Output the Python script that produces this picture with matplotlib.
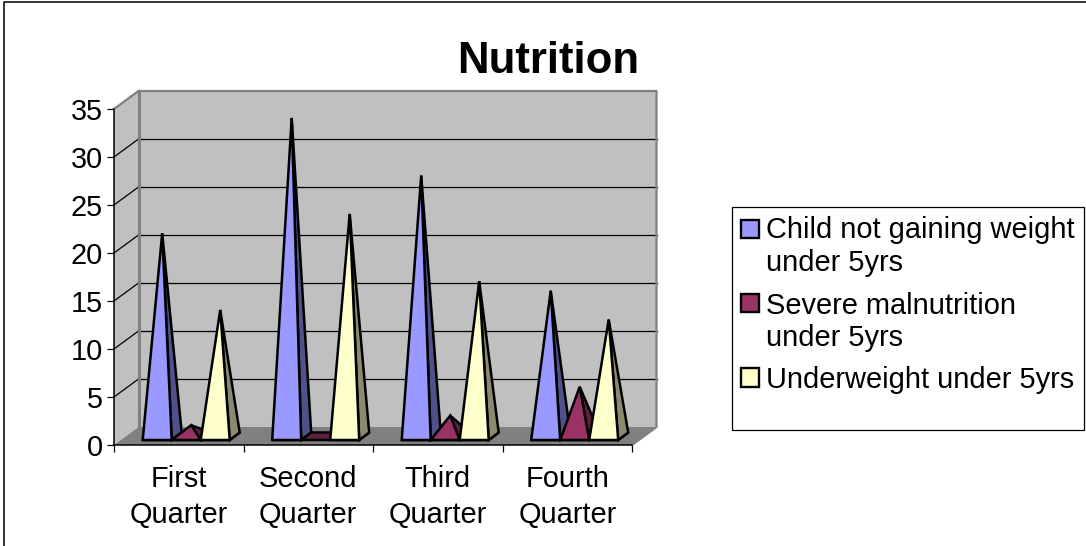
import matplotlib
matplotlib.use("Agg")
import matplotlib.pyplot as plt
from matplotlib.patches import Polygon, Rectangle

quarters = ["First\nQuarter", "Second\nQuarter", "Third\nQuarter", "Fourth\nQuarter"]
child_not_gaining = [21, 33, 27, 15]
severe_malnutrition = [1, 0, 2, 5]
underweight = [13, 23, 16, 12]
y_ticks = [0, 5, 10, 15, 20, 25, 30, 35]

legend_lines = [
    ["Child not gaining weight", "under 5yrs"],
    ["Severe malnutrition", "under 5yrs"],
    ["Underweight under 5yrs"],
]
front_colors = ["#9999FF", "#993366", "#FFFFCC"]
side_colors = ["#50508A", "#5E2040", "#8A8A6E"]

W, H = 1086, 546
plt.rcParams["font.family"] = ["Liberation Sans", "DejaVu Sans"]

fig = plt.figure(figsize=(W / 100, H / 100), dpi=100)
fig.patch.set_facecolor("white")

# front plane of the 3d box is the real axes, the rest is offset from it
left, right, bottom, top = 114, 632, 445, 109
ax = fig.add_axes([left / W, 1 - bottom / H, (right - left) / W, (bottom - top) / H])
ax.set_xlim(0, 4)
ax.set_ylim(0, 35)
ax.patch.set_visible(False)

px_x = 4 / (right - left)
px_y = 35 / (bottom - top)
depth_x = 24.5 * px_x
depth_y = 18 * px_y
bar_w = 29 * px_x
group_start = 28.7 * px_x
bar_dx = 10 * px_x
bar_dy = 7.5 * px_y
base_y = 5 * px_y
apex_lift = 1.5 * px_y


def poly(pts, face, edge="none", lw=0, z=1):
    ax.add_patch(Polygon(pts, closed=True, facecolor=face, edgecolor=edge,
                         linewidth=lw, zorder=z, clip_on=False, joinstyle="miter"))


# walls and floor
poly([(0, 0), (depth_x, depth_y), (depth_x, 35 + depth_y), (0, 35)], "#C0C0C0", z=1)
poly([(depth_x, depth_y), (4 + depth_x, depth_y), (4 + depth_x, 35 + depth_y), (depth_x, 35 + depth_y)],
     "#C0C0C0", z=1)
poly([(0, 0), (4, 0), (4 + depth_x, depth_y), (depth_x, depth_y)], "#808080", z=1)

for v in y_ticks[1:-1]:
    ax.plot([0, depth_x], [v, v + depth_y], color="black", lw=0.9, zorder=2, clip_on=False)
    ax.plot([depth_x, 4 + depth_x], [v + depth_y, v + depth_y], color="black", lw=0.9, zorder=2, clip_on=False)

ax.plot([0, depth_x, 4 + depth_x, 4 + depth_x, 4],
        [35, 35 + depth_y, 35 + depth_y, depth_y, 0],
        color="#808080", lw=1.6, zorder=3, clip_on=False)
ax.plot([depth_x, depth_x], [depth_y, 35 + depth_y], color="#808080", lw=2.2, zorder=3, clip_on=False)

# pyramids
series = [child_not_gaining, severe_malnutrition, underweight]
z = 5
for q in range(len(quarters)):
    for s, values in enumerate(series):
        x0 = q + group_start + s * bar_w
        x1 = x0 + bar_w
        apex = ((x0 + x1) / 2 + bar_dx / 2, base_y + bar_dy / 2 + apex_lift + values[q])
        fl, fr = (x0, base_y), (x1, base_y)
        bl, br = (x0 + bar_dx, base_y + bar_dy), (x1 + bar_dx, base_y + bar_dy)
        poly([fl, fr, br, bl], side_colors[s], "black", 1.8, z)
        if values[q] > 0:
            poly([fr, br, apex], side_colors[s], "black", 1.8, z + 1)
            poly([fl, fr, apex], front_colors[s], "black", 1.8, z + 2)
        z += 3

# axes, ticks, labels
for name in ["top", "right"]:
    ax.spines[name].set_visible(False)
for name in ["left", "bottom"]:
    ax.spines[name].set_linewidth(1.1)
    ax.spines[name].set_zorder(4)
ax.set_yticks(y_ticks)
ax.tick_params(axis="y", length=5, width=0.9, pad=3, labelsize=20.8)
ax.set_xticks(range(5))
ax.set_xticklabels([])
ax.tick_params(axis="x", which="major", length=5, width=0.9)
ax.set_xticks([q + 0.5 for q in range(4)], minor=True)
ax.set_xticklabels(quarters, minor=True, fontsize=20.9, linespacing=1.34)
ax.tick_params(axis="x", which="minor", length=0, pad=14.5)

# overlay in pixels for title, legend, frame
ov = fig.add_axes([0, 0, 1, 1], zorder=20)
ov.set_xlim(0, W)
ov.set_ylim(H, 0)
ov.axis("off")
ov.plot([3.5, 3.5, W], [H, 1.5, 1.5], color="black", lw=1.1)
ov.text(548.5, 73, "Nutrition", fontsize=31.5, fontweight="bold", ha="center", va="baseline")

ov.add_patch(Rectangle((731.5, 206.5), 352.5, 223, facecolor="white", edgecolor="black", lw=0.9))
swatch_y = [219.5, 293.5, 368]
line_y = [[238, 271], [313.5, 345.5], [387.5]]
for s, lines in enumerate(legend_lines):
    ov.add_patch(Rectangle((740.5, swatch_y[s]), 18.5, 18.5, facecolor=front_colors[s],
                           edgecolor="black", lw=1.7))
    for txt, y in zip(lines, line_y[s]):
        ov.text(766, y, txt, fontsize=20.9, ha="left", va="baseline")

fig.savefig("out.png", dpi=100)
